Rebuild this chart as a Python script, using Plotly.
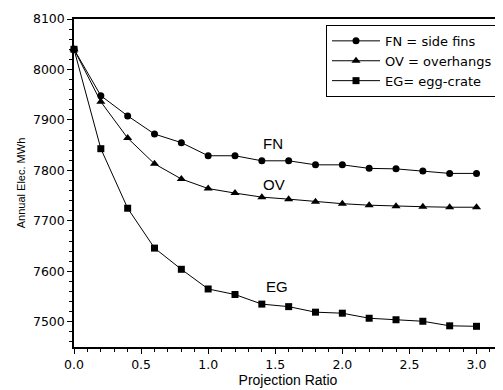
import plotly.graph_objects as go

ratio = [0.0, 0.2, 0.4, 0.6, 0.8, 1.0, 1.2, 1.4, 1.6, 1.8, 2.0, 2.2, 2.4, 2.6, 2.8, 3.0]
fn_vals = [8040, 7948, 7908, 7872, 7855, 7829, 7829, 7819, 7819, 7811, 7811, 7804, 7803, 7799, 7794, 7794]
ov_vals = [8040, 7936, 7864, 7813, 7783, 7764, 7755, 7747, 7743, 7738, 7734, 7731, 7729, 7728, 7727, 7727]
eg_vals = [8040, 7843, 7725, 7646, 7604, 7565, 7554, 7535, 7530, 7519, 7517, 7507, 7504, 7501, 7492, 7491]

series_names = ["FN = side fins", "OV = overhangs", "EG= egg-crate"]
series_symbols = ["circle", "triangle-up", "square"]
labels = ["FN", "OV", "EG"]
label_x = [1.48, 1.49, 1.51]
label_y = [7854, 7773, 7569]

x_ticks = [0, 0.5, 1.0, 1.5, 2.0, 2.5, 3.0]
x_ticktext = ["0.0", "0.5", "1.0", "1.5", "2.0", "2.5", "3.0"]
y_ticks = [7500, 7600, 7700, 7800, 7900, 8000, 8100]

arial = "Liberation Sans, Arial, sans-serif"
wide = "DejaVu Sans, sans-serif"

fig = go.Figure()
for name, vals, sym in zip(series_names, [fn_vals, ov_vals, eg_vals], series_symbols):
    fig.add_trace(go.Scatter(
        x=ratio, y=vals, mode="lines+markers", name=name,
        line=dict(color="black", width=1),
        marker=dict(symbol=sym, size=7 if sym != "triangle-up" else 8, color="black"),
        cliponaxis=False,
    ))

for t, lx, ly in zip(labels, label_x, label_y):
    fig.add_annotation(x=lx, y=ly, text=t, showarrow=False,
                       font=dict(family=arial, size=15, color="black"))

fig.update_layout(
    width=495, height=382,
    margin=dict(l=66, r=1, t=11, b=43, autoexpand=False),
    paper_bgcolor="white", plot_bgcolor="white",
    font=dict(family=wide, color="black", size=12.5),
    showlegend=True,
    legend=dict(
        x=0.9907, y=0.982, xanchor="right", yanchor="top",
        bordercolor="black", borderwidth=1, bgcolor="white",
        font=dict(family=wide, size=13, color="black"),
        tracegroupgap=0, itemwidth=48,
    ),
    xaxis=dict(
        range=[0, 3.19], tickmode="array",
        tickvals=x_ticks, ticktext=x_ticktext,
        ticks="outside", ticklen=5, tickcolor="black", tickwidth=1,
        tickfont=dict(family=wide, size=12.5),
        minor=dict(dtick=0.1, ticks="outside", ticklen=3, tickcolor="black", showgrid=False),
        showline=True, linecolor="black", linewidth=1.5, mirror=True,
        showgrid=False, zeroline=False,
        title=dict(text="Projection Ratio", font=dict(family=arial, size=14), standoff=4),
    ),
    yaxis=dict(
        range=[7450, 8100], tickmode="array",
        tickvals=y_ticks,
        ticks="outside", ticklen=5, tickcolor="black", tickwidth=1,
        tickfont=dict(family=wide, size=12.5),
        minor=dict(dtick=20, ticks="outside", ticklen=3, tickcolor="black", showgrid=False),
        showline=True, linecolor="black", linewidth=1.5,
        showgrid=False, zeroline=False,
        title=dict(text="Annual Elec. MWh", font=dict(family=arial, size=11), standoff=5),
    ),
)

fig.write_html("out.html")
